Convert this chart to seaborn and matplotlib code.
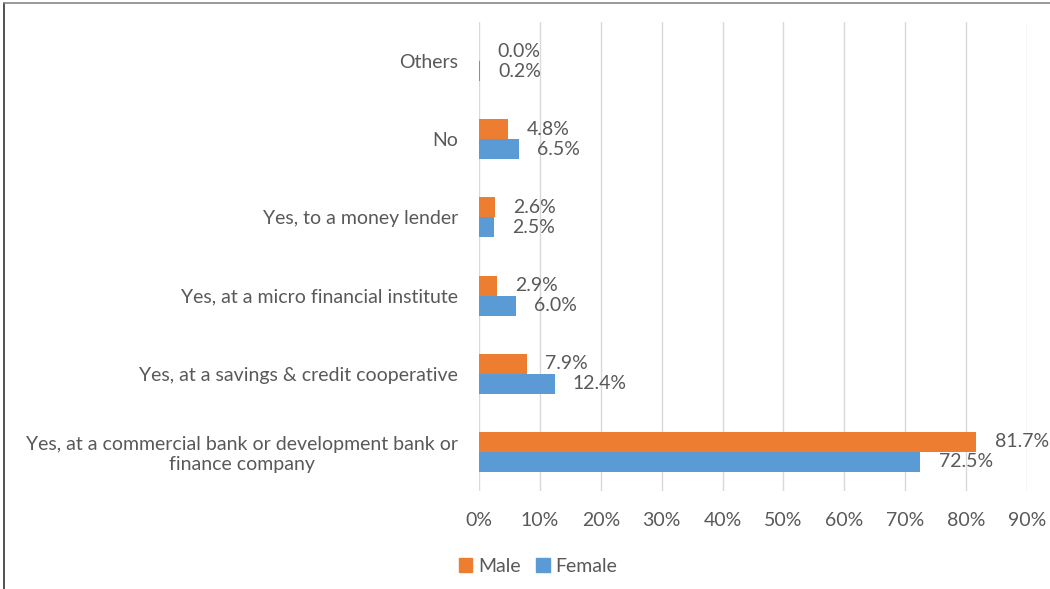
import matplotlib
matplotlib.use("Agg")
import matplotlib.pyplot as plt
import matplotlib.patches as mpatches
import matplotlib.lines as mlines
import seaborn as sns
import pandas as pd
from matplotlib.ticker import FuncFormatter

categories = [
    "Others",
    "No",
    "Yes, to a money lender",
    "Yes, at a micro financial institute",
    "Yes, at a savings & credit cooperative",
    "Yes, at a commercial bank or development bank or\nfinance company",
]
male = [0.0, 4.8, 2.6, 2.9, 7.9, 81.7]
female = [0.2, 6.5, 2.5, 6.0, 12.4, 72.5]
series = ["Male", "Female"]
colors = ["#ED7D31", "#5B9BD5"]
x_ticks = [0, 10, 20, 30, 40, 50, 60, 70, 80, 90]

df = pd.DataFrame({
    "category": categories * 2,
    "value": male + female,
    "gender": ["Male"] * len(categories) + ["Female"] * len(categories),
})

sns.set_theme(style="white")
plt.rcParams["font.family"] = ["Lato", "DejaVu Sans"]
text_color = "#595959"
fs = 14

fig = plt.figure(figsize=(10.5, 5.89), dpi=100)
ax = fig.add_axes([479 / 1050, 1 - 491 / 589, (1027 - 479) / 1050, (491 - 22) / 589])

sns.barplot(
    data=df, y="category", x="value", hue="gender",
    order=categories, hue_order=series, palette=colors, saturation=1,
    orient="h", width=0.51, ax=ax, legend=False, linewidth=0,
)

for container in ax.containers:
    ax.bar_label(container, fmt="%.1f%%", padding=13, fontsize=fs, color=text_color)

ax.set_xlim(0, 90)
ax.set_xticks(x_ticks)
ax.xaxis.set_major_formatter(FuncFormatter(lambda v, p: f"{int(v)}%"))
ax.grid(axis="x", color="#D9D9D9", linewidth=1)
ax.grid(axis="y", visible=False)
ax.set_axisbelow(True)
for s in ax.spines.values():
    s.set_visible(False)
ax.set_xlabel("")
ax.set_ylabel("")
ax.tick_params(axis="x", length=0, pad=15, labelsize=fs, labelcolor=text_color)
ax.tick_params(axis="y", length=0, pad=15, labelsize=fs, labelcolor=text_color)
for lbl in ax.get_yticklabels():
    lbl.set_multialignment("center")

handles = [mpatches.Patch(color=c, label=s) for s, c in zip(series, colors)]
fig.legend(
    handles=handles, loc="center", bbox_to_anchor=(538 / 1050, 1 - 566 / 589),
    ncol=2, frameon=False, handlelength=0.7, handleheight=0.7,
    handletextpad=0.3, columnspacing=0.8, fontsize=fs, labelcolor=text_color,
)

# thin frame along the left and top edges of the figure
fig.add_artist(mlines.Line2D([4 / 1050, 4 / 1050], [0, 1 - 3 / 589], color="#333333", linewidth=1.2, transform=fig.transFigure))
fig.add_artist(mlines.Line2D([4 / 1050, 1], [1 - 3 / 589, 1 - 3 / 589], color="#888888", linewidth=1.2, transform=fig.transFigure))

fig.savefig("out.png", dpi=100)
